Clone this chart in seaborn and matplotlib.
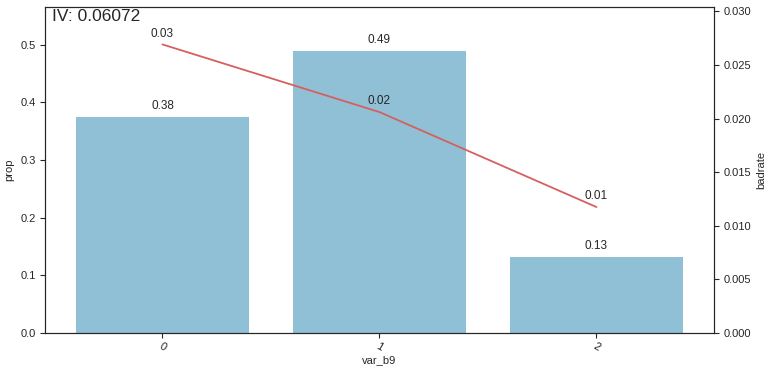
import numpy as np
import pandas as pd
import matplotlib
matplotlib.use("Agg")
import matplotlib.pyplot as plt
import seaborn as sns

sns.set_style("ticks")
plt.rcParams['font.family'] = ['Liberation Sans', 'DejaVu Sans']

# binned variable data
bins = ['0', '1', '2']
prop = [0.375, 0.4887, 0.1322]
badrate = [0.02692, 0.02061, 0.01175]
iv_value = 0.06072

df = pd.DataFrame({'var_b9': bins, 'prop': prop, 'badrate': badrate})

narrow = ['Liberation Sans Narrow', 'Liberation Sans', 'DejaVu Sans']

fig = plt.figure(figsize=(7.7, 3.75), dpi=100)
ax = fig.add_axes([0.0588, 0.112, 0.868, 0.869])

sns.barplot(x='var_b9', y='prop', data=df, color='#8fc0d6', saturation=1,
            width=0.8, linewidth=0, ax=ax)
ax.set_xlim(-0.54, 2.54)
ax.set_ylim(0, 0.565)
ax.set_xlabel('var_b9', fontsize=8, family=narrow, labelpad=2)
ax.set_ylabel('prop', fontsize=8, family=narrow)
ax.tick_params(axis='y', labelsize=8)
ax.tick_params(axis='x', labelsize=8, labelrotation=-30, pad=2)
for lab in ax.get_xticklabels() + ax.get_yticklabels():
    lab.set_family(narrow)
for p in ax.patches:
    h = p.get_height()
    ax.annotate('%.2f' % h, (p.get_x() + p.get_width() / 2, h),
                xytext=(0, 3.5), textcoords='offset points',
                ha='center', va='bottom', fontsize=8.5, color='#262626')

ax2 = ax.twinx()
sns.lineplot(x=np.arange(len(bins)), y=badrate, color='#d65f5f',
             linewidth=1.3, ax=ax2)
ax2.set_ylim(0, 0.0304)
ax2.set_ylabel('badrate', fontsize=8, family=narrow)
ax2.tick_params(axis='y', labelsize=8)
for lab in ax2.get_yticklabels():
    lab.set_family(narrow)
for i, b in enumerate(badrate):
    ax2.annotate('%.2f' % b, (i, b), xytext=(0, 3.5), textcoords='offset points',
                 ha='center', va='bottom', fontsize=8.5, color='#262626')

ax.text(0.01, 0.995, 'IV: %.5f' % iv_value, transform=ax.transAxes,
        ha='left', va='top', fontsize=12.5, color='#262626')

fig.savefig('out.png', dpi=100)
